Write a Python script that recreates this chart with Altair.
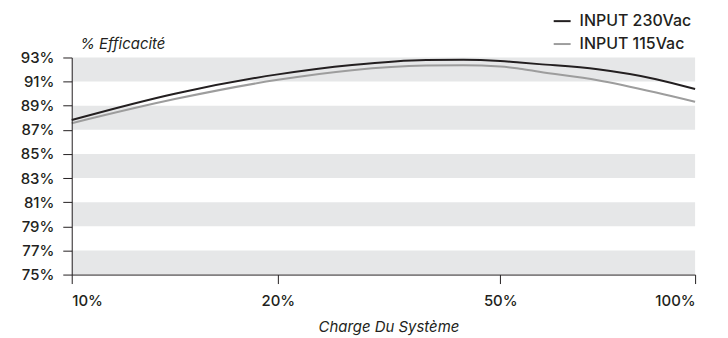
import altair as alt
import pandas as pd

title_text = "Corsair HX1000: efficacité du bloc d'alimentation"
series_names = ["INPUT 230Vac", "INPUT 115Vac"]
loads = [10, 15, 20, 30, 40, 45, 50, 55, 60, 75, 90, 100]
eff_230 = [87.82, 90.0, 91.6, 92.38, 92.8, 92.82, 92.71, 92.58, 92.45, 92.02, 91.2, 90.38]
eff_115 = [87.55, 89.55, 91.15, 91.95, 92.33, 92.36, 92.26, 92.07, 91.82, 91.12, 90.1, 89.33]
x_ticks = [10, 20, 50, 100]
y_ticks = [75, 77, 79, 81, 83, 85, 87, 89, 91, 93]
band_lo = [75, 79, 83, 87, 91]
band_hi = [77, 81, 85, 89, 93]

W, H = 626, 218
FONT = "Inter"
INK = "#231f20"

rows = []
for name, vals in zip(series_names, [eff_230, eff_115]):
    for l, v in zip(loads, vals):
        rows.append({"load": l, "eff": v, "series": name})
line_df = pd.DataFrame(rows)
band_df = pd.DataFrame({"lo": band_lo, "hi": band_hi})

xscale = alt.Scale(type="linear", domain=x_ticks, range=[0, 207, 430.3, W], zero=False, nice=False)
yscale = alt.Scale(domain=[75, 93], zero=False, nice=False)

y_axis = alt.Axis(
    values=y_ticks, labelExpr="datum.value + '%'", title="% Efficacité",
    tickSize=9, labelPadding=9, domainColor=INK, tickColor=INK, grid=False,
    labelFont=FONT, labelFontSize=15, labelFontWeight=500, labelColor=INK,
    titleFont=FONT, titleFontSize=15, titleFontStyle="italic", titleFontWeight="normal",
    titleColor=INK, titleAngle=0, titleAlign="left", titleBaseline="middle",
    titleX=8, titleY=-14, zindex=1,
)
x_axis = alt.Axis(
    values=x_ticks, labelExpr="datum.value + '%'", title="Charge Du Système",
    tickSize=9, labelPadding=10, domainColor=INK, tickColor=INK, grid=False,
    labelFont=FONT, labelFontSize=15, labelFontWeight=500, labelColor=INK,
    titleFont=FONT, titleFontSize=15, titleFontStyle="italic", titleFontWeight="normal",
    titleColor=INK, titleY=52, titleX=318, titleBaseline="middle", zindex=1,
)

bands = alt.Chart(band_df).mark_rect(color="#e6e7e8").encode(
    x=alt.value(0), x2=alt.value(W),
    y=alt.Y("lo:Q", scale=yscale, axis=y_axis, title="% Efficacité"), y2="hi:Q",
)

lines = alt.Chart(line_df).mark_line(interpolate="monotone", strokeWidth=2).encode(
    x=alt.X("load:Q", scale=xscale, axis=x_axis),
    y=alt.Y("eff:Q", scale=yscale, axis=y_axis),
    color=alt.Color("series:N", scale=alt.Scale(domain=series_names, range=[INK, "#9d9d9d"]),
                    legend=alt.Legend(orient="none", legendX=483, legendY=-46, title=None,
                                      symbolType="stroke", symbolSize=289, symbolStrokeWidth=2,
                                      labelFont=FONT, labelFontSize=16, labelFontWeight=500,
                                      labelColor=INK, labelOffset=8, rowPadding=5, padding=0)),
)

title_mark = alt.Chart(pd.DataFrame({"t": [title_text]})).mark_text(
    font=FONT, fontSize=20, fontWeight="bold", align="left", baseline="alphabetic", color=INK
).encode(text="t:N", x=alt.value(-50), y=alt.value(-54))

chart = alt.layer(bands, lines, title_mark).properties(
    width=W, height=H,
    autosize=alt.AutoSizeParams(type="none"),
    padding={"left": 64, "top": 49, "right": 25, "bottom": 63},
).configure_view(stroke=None)

chart.save("out.html", embed_options={"renderer": "svg", "actions": False})
